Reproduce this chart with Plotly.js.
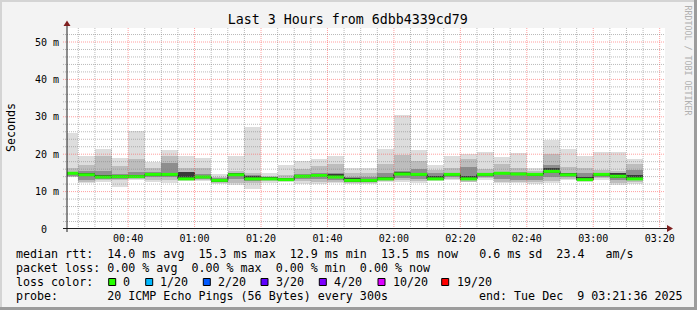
<!DOCTYPE html>
<html><head><meta charset="utf-8">
<script src="https://cdn.plot.ly/plotly-3.0.1.min.js"></script>
<style>html,body{margin:0;padding:0;background:#f3f3f3}#chart{width:697px;height:310px}</style>
</head><body><div id="chart"></div>
<script>
// ---- data (milliseconds), one value per 5-minute bin, labelled by bin end time ----
const binEnds = ['00:25','00:30','00:35','00:40','00:45','00:50','00:55','01:00','01:05','01:10','01:15','01:20',
  '01:25','01:30','01:35','01:40','01:45','01:50','01:55','02:00','02:05','02:10','02:15','02:20',
  '02:25','02:30','02:35','02:40','02:45','02:50','02:55','03:00','03:05','03:10','03:15'];
const medianMs = [14.9,14.5,13.9,14.0,14.0,14.6,14.6,13.4,13.9,13.0,14.5,13.4,13.4,13.2,14.1,14.3,13.9,13.0,13.0,13.4,
  14.7,14.6,13.4,14.6,13.4,14.6,14.9,14.7,14.6,15.4,14.5,13.2,14.6,14.1,13.4];
const maxMs = [25.6,19.5,21.3,18.9,26.1,18.0,21.0,19.5,18.9,14.6,19.5,27.2,15.0,17.0,18.3,18.6,19.4,16.3,16.3,21.3,
  30.6,21.0,17.2,19.6,20.1,20.7,19.2,20.4,16.3,23.8,21.4,19.5,20.7,20.7,18.6];
const minMs = [13.8,12.2,12.7,11.2,13.2,12.5,12.3,12.8,12.8,11.9,11.8,10.6,12.2,12.5,12.1,12.1,12.2,11.9,11.9,12.5,
  12.5,12.3,12.8,13.0,12.5,13.2,12.3,12.3,12.1,12.2,13.2,12.5,13.2,11.8,12.1];
const hi2Ms = [16.2,17.0,19.6,16.9,18.6,16.3,19.5,16.2,16.3,14.0,15.5,15.0,14.2,14.4,16.0,16.8,17.3,14.9,15.0,17.3,
  19.7,18.3,15.9,16.4,18.6,16.0,17.5,16.3,15.5,20.0,16.6,16.2,15.8,15.4,17.5];
const lo2Ms = [13.9,12.6,13.0,13.0,13.3,13.0,13.0,13.0,13.1,12.3,12.4,12.2,12.8,12.8,12.8,12.6,12.6,12.2,12.3,12.8,
  13.0,12.9,13.0,13.4,12.7,13.6,12.7,12.6,12.6,12.8,13.5,12.8,13.6,12.4,12.6];
const hi3Ms = [15.2,15.4,15.4,14.8,15.3,15.2,17.6,15.3,14.8,13.6,15.0,14.5,13.8,13.6,14.6,15.0,15.0,13.9,14.0,15.0,
  15.6,16.0,14.9,15.1,16.5,15.0,15.3,15.2,14.9,17.2,15.0,15.0,15.0,14.8,15.8];
const lo3Ms = [14.3,13.0,13.3,13.4,13.6,13.8,13.8,13.2,13.4,12.6,13.5,12.8,13.0,13.0,13.3,13.4,13.2,12.5,12.5,13.1,
  13.6,13.5,13.2,13.8,13.0,14.0,13.3,13.0,13.0,13.8,13.9,13.0,14.0,13.2,13.0];
const hi4Ms = [15.3,15.0,14.4,14.4,14.5,15.0,15.1,15.2,14.3,13.4,14.9,14.2,13.8,13.6,14.5,14.7,14.6,13.6,13.5,14.0,
  15.3,15.1,14.1,15.0,14.2,15.0,15.2,15.1,14.9,16.2,14.9,14.0,15.0,14.9,14.4];
const lo4Ms = [14.6,14.2,13.6,13.7,13.7,14.3,14.3,13.1,13.6,12.7,14.2,13.1,13.1,12.9,13.8,14.0,13.6,12.7,12.7,13.1,
  14.4,14.3,13.1,14.3,13.1,14.3,14.6,14.4,14.3,15.0,14.2,12.9,14.3,13.6,13.1];
const yTickVals = [0,10,20,30,40,50];
const yTickText = ['0  ','10 m','20 m','30 m','40 m','50 m'];
const lossLabels = ['0','1/20','2/20','3/20','4/20','10/20','19/20'];
const lossColors = ['#26ff00','#00b8ff','#0059ff','#5e00ff','#7e00ff','#dd00ff','#ff0000'];
const titleText = 'Last 3 Hours from 6dbb4339cd79';
const rowRtt  = 'median rtt:  14.0 ms avg  15.3 ms max  12.9 ms min  13.5 ms now   0.6 ms sd  23.4   am/s';
const rowLoss = 'packet loss: 0.00 % avg  0.00 % max  0.00 % min  0.00 % now';
const rowProbe = 'probe:       20 ICMP Echo Pings (56 Bytes) every 300s';
const rowEnd = 'end: Tue Dec  9 03:21:36 2025';

// ---- helpers ----
const DAY = '2025-12-09 ';
const L = 67, R = 665, T = 28, B = 229;
const X = px => (px - L) / (R - L);
const Y = py => (B - py) / (B - T);
const nb = s => s.replace(/ /g, '\u00a0');
function shiftTime(hm, minutes) {
  const [h, m] = hm.split(':').map(Number);
  let t = h * 60 + m + minutes;
  const hh = String(Math.floor(t / 60)).padStart(2, '0');
  const mm = String(t % 60).padStart(2, '0');
  return DAY + hh + ':' + mm + ':00';
}
const xEnd = binEnds.map(t => shiftTime(t, 0));
const xStart = binEnds.map(t => shiftTime(t, -5));

function band(lo, hi, color) {
  return {type: 'bar', x: xEnd, base: lo, y: hi.map((v, i) => v - lo[i]),
    offset: -300000, width: 300000, marker: {color: color, line: {width: 0}},
    hoverinfo: 'skip', showlegend: false};
}
const stepX = [], stepY = [], segX = [], segY = [];
medianMs.forEach((m, i) => {
  stepX.push(xStart[i], xEnd[i]); stepY.push(m, m);
  segX.push(xStart[i], xEnd[i], null); segY.push(m, m, null);
});

const traces = [
  band(minMs, maxMs, '#dddddd'),
  band(lo2Ms, hi2Ms, '#bdbdbd'),
  band(lo3Ms, hi3Ms, '#8e8e8e'),
  band(lo4Ms, hi4Ms, '#3a3a3a'),
  {type: 'scatter', mode: 'lines', x: stepX, y: stepY, line: {color: '#000', width: 1}, hoverinfo: 'skip', showlegend: false},
  {type: 'scatter', mode: 'lines', x: segX, y: segY, line: {color: lossColors[0], width: 3}, hoverinfo: 'skip', showlegend: false}
];

// ---- grid (drawn above the data as in rrdtool) ----
const shapes = [];
const majorGrid = 'rgba(255,80,80,0.55)', minorGrid = 'rgba(130,130,130,0.55)';
for (let t = 25; t <= 200; t += 5) {
  const hm = String(Math.floor(t / 60)).padStart(2, '0') + ':' + String(t % 60).padStart(2, '0');
  const major = t % 20 === 0;
  shapes.push({type: 'line', xref: 'x', yref: 'paper', x0: DAY + hm, x1: DAY + hm, y0: 0, y1: 1,
    line: {color: major ? majorGrid : minorGrid, width: 1, dash: '1px,1px'}, layer: 'above'});
}
for (let v = 2; v <= 52; v += 2) {
  const major = v % 10 === 0;
  shapes.push({type: 'line', xref: 'paper', yref: 'y', x0: X(63), x1: 1, y0: v, y1: v,
    line: {color: major ? majorGrid : minorGrid, width: 1, dash: '1px,1px'}, layer: 'above'});
}
// axes with arrows
shapes.push({type: 'line', xref: 'paper', yref: 'paper', x0: X(63), x1: X(668), y0: Y(228.5), y1: Y(228.5), line: {color: '#1f1f1f', width: 1}, layer: 'above'});
shapes.push({type: 'line', xref: 'paper', yref: 'paper', x0: X(67), x1: X(67), y0: Y(232), y1: Y(24), line: {color: '#1f1f1f', width: 1}, layer: 'above'});
shapes.push({type: 'path', xref: 'paper', yref: 'paper', fillcolor: '#7f1f1f', line: {width: 0}, layer: 'above',
  path: `M${X(63.5)},${Y(26)} L${X(70.5)},${Y(26)} L${X(67)},${Y(20.5)} Z`});
shapes.push({type: 'path', xref: 'paper', yref: 'paper', fillcolor: '#7f1f1f', line: {width: 0}, layer: 'above',
  path: `M${X(667)},${Y(225)} L${X(667)},${Y(232)} L${X(673)},${Y(228.5)} Z`});
// frame
shapes.push({type: 'rect', xref: 'paper', yref: 'paper', x0: X(0), x1: X(697), y0: Y(0), y1: Y(2), fillcolor: '#d4d4d4', line: {width: 0}});
shapes.push({type: 'rect', xref: 'paper', yref: 'paper', x0: X(0), x1: X(2), y0: Y(0), y1: Y(310), fillcolor: '#d4d4d4', line: {width: 0}});
shapes.push({type: 'rect', xref: 'paper', yref: 'paper', x0: X(694), x1: X(697), y0: Y(0), y1: Y(310), fillcolor: '#9c9c9c', line: {width: 0}});
shapes.push({type: 'rect', xref: 'paper', yref: 'paper', x0: X(0), x1: X(697), y0: Y(307), y1: Y(310), fillcolor: '#9c9c9c', line: {width: 0}});

// ---- text ----
const mono = 'DejaVu Sans Mono';
const txtFont = {family: mono, size: 11.67, color: '#000'};
const annotations = [];
function addText(text, px, py, opts) {
  annotations.push(Object.assign({text: nb(text), xref: 'paper', yref: 'paper', x: X(px), y: Y(py),
    xanchor: 'left', yanchor: 'middle', showarrow: false, font: txtFont, borderpad: 0}, opts || {}));
}
addText(rowRtt, 15, 254);
addText(rowLoss, 15, 268);
addText('loss color:', 15, 282);
const squareX = [108.7, 145.7, 203.3, 261, 319.3, 378, 441.7];
const labelX = [122.5, 160, 218, 276, 334, 393, 456.5];
lossLabels.forEach((lab, i) => {
  addText(lab, labelX[i] - 1, 282);
  shapes.push({type: 'rect', xref: 'paper', yref: 'paper', x0: X(squareX[i]), x1: X(squareX[i] + 7),
    y0: Y(278.5), y1: Y(285.5), fillcolor: lossColors[i], line: {color: '#000', width: 1}});
});
addText(rowProbe, 15, 296);
addText(rowEnd, 478.3, 296);
addText('Seconds', 10.5, 127.5, {xanchor: 'center', textangle: -90});
addText('RRDTOOL / TOBI OETIKER', 687.5, 60, {xanchor: 'center', textangle: 90,
  font: {family: mono, size: 8.3, color: '#b0b0b0'}});

const layout = {
  width: 697, height: 310,
  margin: {l: L, r: 697 - R, t: T, b: 310 - B, pad: 0},
  paper_bgcolor: '#f3f3f3', plot_bgcolor: '#ffffff',
  barmode: 'overlay', bargap: 0, showlegend: false,
  title: {text: titleText, font: {family: mono, size: 13.3, color: '#000'},
    xref: 'paper', x: X(347.8), xanchor: 'center', yref: 'container', y: 1 - 19.5 / 310, yanchor: 'middle'},
  xaxis: {type: 'date', range: [DAY + '00:21:36', DAY + '03:21:36'], tick0: DAY + '00:00:00', dtick: 1200000,
    tickformat: '%H:%M', showgrid: false, zeroline: false, showline: false, ticks: '',
    tickfont: {family: mono, size: 10, color: '#000'}, ticklabelstandoff: 2, fixedrange: true},
  yaxis: {range: [0, (B - T) / 3.74], tickvals: yTickVals, ticktext: yTickText.map(nb),
    showgrid: false, zeroline: false, showline: false, ticks: '',
    tickfont: {family: mono, size: 10, color: '#000'}, ticklabelstandoff: 7, fixedrange: true},
  shapes: shapes, annotations: annotations
};
Plotly.newPlot('chart', traces, layout, {staticPlot: true, displayModeBar: false});
</script></body></html>
